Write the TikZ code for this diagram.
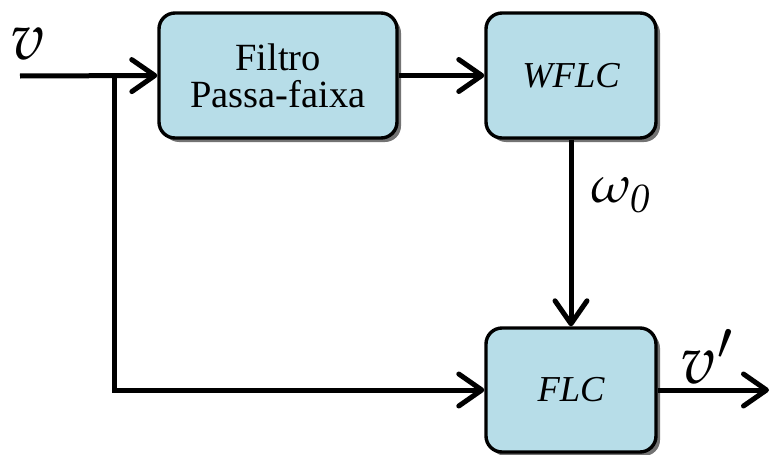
\documentclass[tikz,border=0pt]{standalone}
\usepackage{mathpazo}
\usepackage{fontspec}
\setmainfont{Liberation Serif}
\usetikzlibrary{arrows.meta,shadows}
\definecolor{boxfill}{RGB}{183,221,232}
\tikzset{
  block/.style={draw=black, line width=3.4pt, fill=boxfill, rounded corners=16pt,
    minimum height=125pt, inner sep=0pt,
    drop shadow={shadow xshift=4pt, shadow yshift=-4pt, opacity=0.55, fill=black}},
  sig/.style={line width=5pt, -{Straight Barb[length=23pt,width=32pt,line cap=round,line join=round]}},
  lbl/.style={inner sep=0pt}
}
\begin{document}
\begin{tikzpicture}[x=1pt,y=-1pt]
\useasboundingbox (0,0) rectangle (771,455);

% processing blocks
\node[block, minimum width=238pt, align=center,
  font=\fontsize{38.5}{37}\selectfont] (filt) at (278,75.5) {Filtro\\Passa-faixa};
\node[block, minimum width=170pt, font=\fontsize{36.5}{40}\selectfont\itshape]
  (wflc) at (571,75.5) {WFLC};
\node[block, minimum width=170pt, minimum height=124pt,
  font=\fontsize{36.5}{40}\selectfont\itshape] (flc) at (571,390) {FLC};

% signal endpoints
\coordinate (in) at (20,76);
\coordinate (br) at (114,76);
\coordinate (out) at (769,390);

% connections
\draw[sig] (in) -- (filt.west);
\draw[sig] (filt.east) -- (wflc.west);
\draw[sig] (wflc.south) -- (flc.north);
\draw[sig] (br) |- (flc.west);
\draw[sig] (flc.east) -- (out);

% signal labels
\node[lbl, font=\fontsize{66}{70}\selectfont] (vin) at (28,44) {$v$};
\node[lbl, font=\fontsize{68}{70}\selectfont] (vout) at (707,357) {$v'$};
\node[lbl, font=\fontsize{52}{54}\selectfont] (w0) at (621,195) {$\omega_{\mathit{0}}$};
\end{tikzpicture}
\end{document}
